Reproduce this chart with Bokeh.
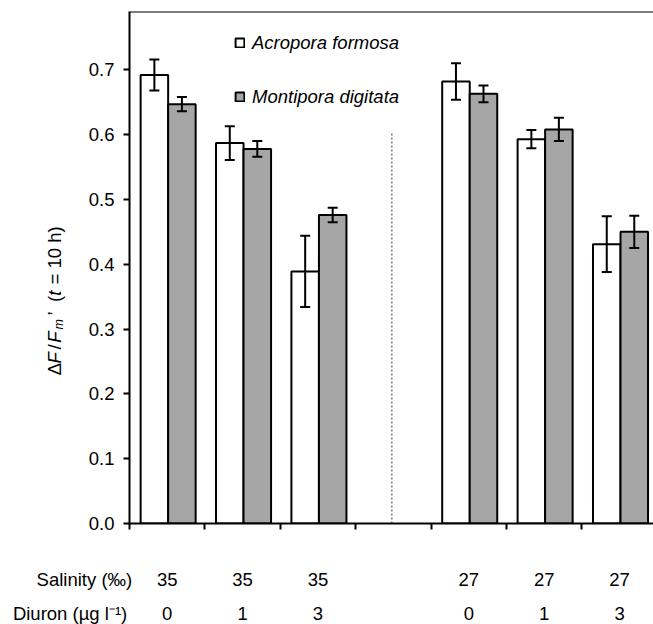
import math
from bokeh.plotting import figure
from bokeh.layouts import column, row
from bokeh.core.properties import value
from bokeh.models import (ColumnDataSource, Range1d, FixedTicker, Whisker, TeeHead,
                          Legend, LegendItem, Span, NumeralTickFormatter)
from bokeh.embed import file_html
from bokeh.resources import INLINE

# ---------------- data ----------------
salinity = ["35", "35", "35", "27", "27", "27"]
diuron = ["0", "1", "3", "0", "1", "3"]
acropora = [0.692, 0.587, 0.389, 0.682, 0.593, 0.431]
acropora_err = [0.024, 0.026, 0.055, 0.028, 0.014, 0.043]
montipora = [0.647, 0.578, 0.476, 0.663, 0.608, 0.450]
montipora_err = [0.011, 0.012, 0.011, 0.013, 0.018, 0.025]
y_ticks = [0.0, 0.1, 0.2, 0.3, 0.4, 0.5, 0.6, 0.7]
series_names = ["Acropora formosa", "Montipora digitata"]
row_titles = ["Salinity (\u2030)", "Diuron (\u00b5g l\u207b\u00b9)"]

FONT = "Liberation Sans"
FS = "18.5px"

# layout: an empty slot separates the two salinity groups
slot = [i + (1 if i >= 3 else 0) for i in range(len(salinity))]
center = [s + 0.5 for s in slot]
BW = 0.365
xa = [c - 0.17 for c in center]
xm = [c + 0.195 for c in center]

src = ColumnDataSource(dict(
    center=center, xa=xa, xm=xm, a=acropora, m=montipora,
    a_lo=[v - e for v, e in zip(acropora, acropora_err)],
    a_hi=[v + e for v, e in zip(acropora, acropora_err)],
    m_lo=[v - e for v, e in zip(montipora, montipora_err)],
    m_hi=[v + e for v, e in zip(montipora, montipora_err)],
))

# ---------------- geometry ----------------
W, H = 653, 624
LEFT_W = 70            # width of the strip holding the rotated y title
MAIN_H = 560           # height of the chart row
FRAME_LEFT, FRAME_TOP, FRAME_BOTTOM = 129, 11, 523
X_END, Y_END = 6.95, 0.79
XS = (W - FRAME_LEFT) / X_END

# ---------------- main chart ----------------
p = figure(width=W - LEFT_W, height=MAIN_H, output_backend="svg", toolbar_location=None,
           x_range=Range1d(0, X_END), y_range=Range1d(0, Y_END),
           min_border_left=FRAME_LEFT - LEFT_W, min_border_right=0, min_border_top=FRAME_TOP,
           min_border_bottom=MAIN_H - FRAME_BOTTOM)
p.outline_line_color = None
p.grid.visible = False
p.background_fill_color = "white"
p.border_fill_color = "white"

p.yaxis.ticker = FixedTicker(ticks=y_ticks)
p.yaxis.formatter = NumeralTickFormatter(format="0.0")
p.yaxis.major_label_text_font = FONT
p.yaxis.major_label_text_font_size = FS
p.yaxis.major_label_text_color = "black"
p.yaxis.axis_line_width = 2
p.yaxis.major_tick_line_width = 2
p.yaxis.major_tick_out = 6
p.yaxis.major_tick_in = 0
p.yaxis.minor_tick_line_color = None
p.yaxis.major_label_standoff = 9

p.xaxis.ticker = FixedTicker(ticks=list(range(8)))
p.xaxis.major_label_overrides = {i: "" for i in range(8)}
p.xaxis.major_label_text_font_size = "2px"
p.xaxis.major_label_standoff = 0
p.xaxis.axis_line_width = 2
p.xaxis.major_tick_line_width = 2
p.xaxis.major_tick_out = 6
p.xaxis.major_tick_in = 0
p.xaxis.minor_tick_line_color = None

p.add_layout(Span(location=Y_END, dimension="width", line_color="black", line_width=2))

gap = 3.48
p.segment(x0=[gap], y0=[0], x1=[gap], y1=[0.605], line_color="#333333", line_width=1,
          line_dash="2 2")

ra = p.vbar(x="xa", top="a", bottom=0, width=BW, fill_color="white", line_color="black",
            line_width=2, source=src)
rm = p.vbar(x="xm", top="m", bottom=0, width=BW, fill_color="#a6a6a6", line_color="black",
            line_width=2, source=src)

for base, lo, hi in (("xa", "a_lo", "a_hi"), ("xm", "m_lo", "m_hi")):
    p.add_layout(Whisker(base=base, lower=lo, upper=hi, source=src, line_width=2,
                         line_color="black", level="annotation",
                         upper_head=TeeHead(size=10, line_width=2, line_color="black"),
                         lower_head=TeeHead(size=10, line_width=2, line_color="black")))

legend = Legend(items=[LegendItem(label=series_names[0], renderers=[ra]),
                       LegendItem(label=series_names[1], renderers=[rm])],
                location=(105, 415.5), orientation="vertical", border_line_color=None,
                background_fill_alpha=0, padding=0, margin=0, spacing=32,
                glyph_width=11, glyph_height=11, label_standoff=7, label_height=11,
                label_text_font=FONT, label_text_font_size=FS,
                label_text_font_style="italic", label_text_color="black")
p.add_layout(legend)


def blank(width, height, xr, yr, top=0, bottom=0):
    f = figure(width=width, height=height, output_backend="svg", toolbar_location=None,
               x_range=xr, y_range=yr, x_axis_type=None, y_axis_type=None,
               min_border=0, min_border_left=0, min_border_right=0, min_border_top=top,
               min_border_bottom=bottom)
    f.outline_line_color = None
    f.grid.visible = False
    f.background_fill_color = "white"
    f.border_fill_color = "white"
    return f


# ---------------- rotated y title ----------------
# its frame matches the chart frame vertically; y values are canvas pixel rows
yl = blank(LEFT_W, MAIN_H, Range1d(0, LEFT_W), Range1d(FRAME_BOTTOM, FRAME_TOP),
           top=FRAME_TOP, bottom=MAIN_H - FRAME_BOTTOM)
pieces = [
    ("\u0394", 374.8, "normal", "18.5px", 54.0),
    ("F", 363.0, "italic", "18.5px", 54.0),
    ("/", 349.0, "normal", "18.5px", 54.0),
    ("F", 342.2, "italic", "18.5px", 54.0),
    ("m", 329.0, "italic", "12.5px", 58.0),
    ("\u2019", 315.0, "normal", "18.5px", 54.0),
    ("(", 301.5, "normal", "18.5px", 54.0),
    ("t", 295.3, "italic", "18.5px", 54.0),
    ("= 10 h)", 284.0, "normal", "18.5px", 54.0),
]
for txt, cy, style, size, bx in pieces:
    yl.text(x=[bx], y=[cy], text=[txt], angle=math.pi / 2, text_font=value(FONT),
            text_font_size=value(size), text_font_style=value(style), text_align="left",
            text_baseline="alphabetic", text_color="black")

# ---------------- bottom rows (x shares the chart's scale) ----------------
BOT_H = H - MAIN_H
bt = blank(W, BOT_H, Range1d(-FRAME_LEFT / XS, X_END), Range1d(H, MAIN_H))
ROW1, ROW2 = 578.5, 612.5


def dx(cx):
    return (cx - FRAME_LEFT) / XS


bt.text(x=[dx(131.7)], y=[ROW1], text=[row_titles[0]], text_align="right",
        text_baseline="middle", text_font=value(FONT), text_font_size=value(FS),
        text_color="black")
bt.text(x=[dx(126.7)], y=[ROW2], text=[row_titles[1]], text_align="right",
        text_baseline="middle", text_font=value(FONT), text_font_size=value(FS),
        text_color="black")
bt.text(x=center, y=[ROW1] * len(center), text=salinity, text_align="center",
        text_baseline="middle", text_font=value(FONT), text_font_size=value(FS),
        text_color="black")
bt.text(x=center, y=[ROW2] * len(center), text=diuron, text_align="center",
        text_baseline="middle", text_font=value(FONT), text_font_size=value(FS),
        text_color="black")

layout = column(row(yl, p, spacing=0), bt, spacing=0)
open("out.html", "w").write(file_html(layout, INLINE))
